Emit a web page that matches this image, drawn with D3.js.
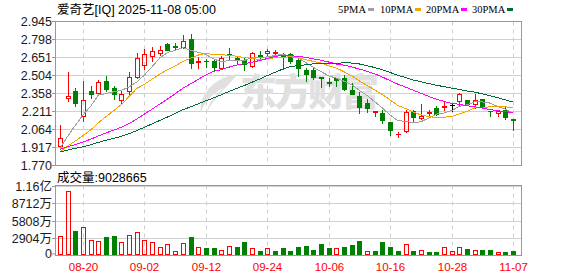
<!DOCTYPE html>
<html><head><meta charset="utf-8">
<script src="https://cdn.jsdelivr.net/npm/d3@7"></script>
<style>body{margin:0;background:#fff}svg{display:block}</style>
</head><body><svg id="c" width="578" height="276"></svg>
<script>
// ---------- data ----------
const dates = ["08-15","08-18","08-19","08-20","08-21","08-22","08-25","08-26","08-27","08-28","08-29",
"09-02","09-03","09-04","09-05","09-08","09-09","09-10","09-11","09-12","09-15","09-16","09-17","09-18","09-19","09-22","09-23","09-24","09-25","09-26","09-29","09-30",
"10-01","10-02","10-03","10-06","10-07","10-08","10-09","10-10","10-13","10-14","10-15","10-16","10-17","10-20","10-21","10-22","10-23","10-24","10-27","10-28","10-29","10-30","10-31",
"11-03","11-04","11-05","11-06","11-07"];
const open  = [1.925,2.320,2.376,2.172,2.376,2.363,2.455,2.401,2.306,2.376,2.494,2.586,2.659,2.686,2.763,2.743,2.735,2.804,2.615,2.622,
2.620,2.564,2.678,2.649,2.633,2.580,2.667,2.690,2.687,2.662,2.681,2.633,2.545,2.545,2.487,2.449,2.480,2.485,2.382,2.333,
2.278,2.207,2.197,2.118,2.020,2.050,2.213,2.151,2.198,2.240,2.248,2.260,2.295,2.300,2.268,2.314,2.215,2.195,2.224,2.145];
const high  = [2.096,2.531,2.401,2.455,2.415,2.470,2.500,2.415,2.376,2.530,2.686,2.722,2.735,2.741,2.766,2.768,2.831,2.845,2.654,2.640,
2.640,2.659,2.730,2.659,2.649,2.695,2.700,2.722,2.708,2.690,2.690,2.654,2.564,2.564,2.490,2.486,2.486,2.504,2.441,2.368,
2.308,2.213,2.219,2.123,2.042,2.219,2.224,2.268,2.224,2.251,2.286,2.268,2.360,2.300,2.350,2.314,2.215,2.224,2.251,2.145];
const low   = [1.909,2.295,2.254,2.131,2.322,2.355,2.380,2.308,2.280,2.350,2.485,2.559,2.620,2.673,2.708,2.714,2.730,2.564,2.564,2.572,
2.540,2.553,2.640,2.594,2.550,2.572,2.633,2.659,2.660,2.560,2.605,2.500,2.455,2.477,2.410,2.420,2.420,2.382,2.350,2.192,
2.205,2.170,2.115,2.015,1.996,2.042,2.129,2.145,2.164,2.178,2.224,2.213,2.260,2.260,2.240,2.240,2.170,2.170,2.145,2.060];
const close = [1.990,2.335,2.278,2.300,2.355,2.447,2.395,2.355,2.355,2.494,2.649,2.681,2.703,2.708,2.714,2.740,2.784,2.605,2.622,2.618,
2.572,2.649,2.674,2.633,2.600,2.686,2.654,2.700,2.692,2.655,2.620,2.564,2.518,2.490,2.483,2.445,2.470,2.390,2.350,2.246,
2.240,2.212,2.137,2.055,2.026,2.203,2.164,2.170,2.205,2.186,2.253,2.260,2.350,2.268,2.306,2.251,2.211,2.210,2.164,2.140];
// volume in 万 shares
const volume = [3378,10794,4202,4812,2719,2554,3214,3378,2390,3543,4038,2719,2390,1566,2011,857,2225,3214,1566,1401,
1401,1022,1681,1566,2390,1351,857,1351,857,1401,857,1566,1730,1022,2060,1401,1401,1566,1895,2554,
857,857,2390,1566,906,2011,906,1022,742,742,1566,906,1566,1236,1071,1071,1071,692,742,903];
// volume bar colour: 1 = up (red), 0 = down (green)
const volUp = [1,1,0,1,1,1,0,0,1,1,1,1,1,1,1,1,1,0,1,0,
0,1,1,0,0,1,0,1,0,0,0,0,0,0,0,0,1,0,0,0,
1,0,0,0,0,1,0,1,0,0,1,1,1,0,1,0,0,1,0,0];
const ma5  = [1.906,2.005,2.095,2.180,2.252,2.343,2.355,2.370,2.381,2.409,2.450,2.507,2.576,2.647,2.691,2.709,2.730,2.710,2.693,2.674,
2.640,2.613,2.627,2.629,2.626,2.648,2.649,2.655,2.666,2.677,2.664,2.646,2.610,2.569,2.535,2.500,2.481,2.456,2.428,2.380,
2.339,2.288,2.237,2.178,2.134,2.127,2.117,2.124,2.154,2.186,2.196,2.215,2.251,2.263,2.287,2.287,2.277,2.249,2.228,2.195];
const ma10 = [1.878,1.925,1.967,2.010,2.058,2.115,2.167,2.215,2.265,2.331,2.397,2.431,2.473,2.514,2.550,2.580,2.619,2.643,2.670,2.683,
2.675,2.672,2.669,2.661,2.650,2.644,2.631,2.641,2.648,2.652,2.656,2.648,2.633,2.618,2.606,2.582,2.564,2.533,2.499,2.458,
2.420,2.385,2.347,2.303,2.257,2.233,2.203,2.181,2.166,2.160,2.162,2.166,2.188,2.209,2.237,2.242,2.246,2.250,2.246,2.241];
const ma20 = [1.897,1.919,1.938,1.958,1.981,2.008,2.033,2.056,2.079,2.109,2.147,2.187,2.228,2.269,2.310,2.353,2.398,2.434,2.471,2.507,
2.536,2.551,2.571,2.588,2.600,2.612,2.625,2.642,2.659,2.667,2.665,2.660,2.651,2.639,2.628,2.613,2.597,2.587,2.573,2.555,
2.538,2.516,2.490,2.460,2.432,2.408,2.383,2.357,2.332,2.309,2.291,2.275,2.267,2.256,2.247,2.237,2.224,2.215,2.206,2.201];
const ma30 = [1.877,1.893,1.906,1.920,1.936,1.955,1.973,1.989,2.005,2.026,2.052,2.079,2.107,2.135,2.163,2.192,2.222,2.246,2.271,2.296,
2.319,2.345,2.372,2.397,2.421,2.448,2.474,2.502,2.529,2.555,2.576,2.583,2.591,2.598,2.602,2.602,2.604,2.606,2.605,2.597,
2.583,2.568,2.549,2.527,2.504,2.486,2.466,2.452,2.437,2.423,2.412,2.399,2.389,2.376,2.367,2.352,2.337,2.321,2.303,2.286];
const priceTicks = [2.945,2.798,2.651,2.504,2.358,2.211,2.064,1.917,1.770];
const volTicks = [0,2904,5808,8712,11616];
const volTickLabels = ["0","2904万","5808万","8712万","1.16亿"];
const dateTicks = ["08-20","09-02","09-12","09-24","10-06","10-16","10-28","11-07"];
const titleText = "爱奇艺[IQ] 2025-11-08 05:00";
const volTitleText = "成交量:9028665";
const maNames = ["5PMA","10PMA","20PMA","30PMA"];

// ---------- style / layout ----------
const RED="#ff0000", GREEN="#008000";
const maColors = ["#a0a0a0","#f5a300","#ff00ff","#006b35"];
const L=55.5, R=521.5, PT=21.5, PB=165.5, VT=185.5, VB=255.5;
const FONT = "'Liberation Sans','Noto Sans CJK SC',sans-serif";

const svg = d3.select("#c");
const x = d3.scalePoint().domain(dates).range([60,513]);
const y = d3.scaleLinear().domain([1.770,2.945]).range([165,21.5]);
const yv = d3.scaleLinear().domain([0,11616]).range([256.5,186]);
const cr = v => Math.floor(v)+0.5;

// grid
const grid = svg.append("g");
grid.selectAll(".hg").data(priceTicks).join("line")
  .attr("x1",L).attr("x2",R).attr("y1",d=>cr(y(d))).attr("y2",d=>cr(y(d)))
  .attr("stroke","#d0d0d0");
grid.selectAll(".vg").data(volTicks.filter(v=>v>0)).join("line")
  .attr("x1",L).attr("x2",R).attr("y1",d=>cr(yv(d))).attr("y2",d=>cr(yv(d)))
  .attr("stroke","#d0d0d0");
dateTicks.forEach(d=>{
  const xx = Math.round(x(d))+0.5;
  [[PT,PB],[VT,VB]].forEach(([a,b])=>{
    grid.append("line").attr("x1",xx).attr("x2",xx).attr("y1",a).attr("y2",b)
      .attr("stroke","#cfcfcf").attr("stroke-dasharray","4,4");
  });
});

// watermark
const wm = svg.append("g").attr("fill","#e0e0e0");
wm.append("path").attr("d","M238,74 C218,76 198,92 201,113 C205,100 214,92 224,88 C214,96 208,104 207,112 C214,98 226,88 238,74 Z");
wm.append("text").attr("x",240).attr("y",106).attr("font-size",37).attr("font-weight",900)
  .attr("letter-spacing",-3).attr("font-family","'Noto Sans CJK SC',sans-serif").text("东方财富");

// frames
svg.append("rect").attr("x",L).attr("y",PT).attr("width",R-L).attr("height",PB-PT)
  .attr("fill","none").attr("stroke","#999");
svg.append("rect").attr("x",L).attr("y",VT).attr("width",R-L).attr("height",VB-VT)
  .attr("fill","none").attr("stroke","#999");

// y axis labels + ticks
const ax = svg.append("g").attr("font-family",FONT).attr("font-size",12.5).attr("fill","#1a1a1a");
priceTicks.forEach(t=>{
  const yy = cr(y(t));
  ax.append("line").attr("x1",52).attr("x2",L).attr("y1",yy).attr("y2",yy).attr("stroke","#999");
  ax.append("text").attr("x",52).attr("y",yy).attr("text-anchor","end").attr("dominant-baseline","central").text(t.toFixed(3));
});
volTicks.forEach((t,i)=>{
  const yy = Math.min(cr(yv(t)),254);
  ax.append("line").attr("x1",52).attr("x2",L).attr("y1",yy).attr("y2",yy).attr("stroke","#999");
  ax.append("text").attr("x",52).attr("y",yy).attr("text-anchor","end").attr("dominant-baseline","central").text(volTickLabels[i]);
});

// x labels
svg.append("g").selectAll("text").data(dateTicks).join("text")
  .attr("x",d=>Math.round(x(d))+0.5).attr("y",271).attr("text-anchor","middle")
  .attr("font-family",FONT).attr("font-size",11.5).attr("fill",RED).text(d=>d);

// candles
const gc = svg.append("g");
dates.forEach((d,i)=>{
  const cx = Math.round(x(d));
  const o=open[i], c=close[i];
  const yT = Math.round(y(Math.max(o,c))), yB = Math.round(y(Math.min(o,c)));
  const yH = Math.round(y(high[i])), yL = Math.round(y(low[i]));
  const col = c>o?RED:(c<o?GREEN:"#000");
  if (c>o) {
    if (yH<yT) gc.append("line").attr("x1",cx+0.5).attr("x2",cx+0.5).attr("y1",yH).attr("y2",yT).attr("stroke",col);
    if (yL>yB) gc.append("line").attr("x1",cx+0.5).attr("x2",cx+0.5).attr("y1",yB+1).attr("y2",yL+1).attr("stroke",col);
    if (yB-yT>=1) gc.append("rect").attr("x",cx-1.5).attr("y",yT+0.5).attr("width",4).attr("height",yB-yT)
        .attr("fill","none").attr("stroke",col);
    else gc.append("line").attr("x1",cx-2).attr("x2",cx+3).attr("y1",yT+0.5).attr("y2",yT+0.5).attr("stroke",col);
  } else {
    gc.append("line").attr("x1",cx+0.5).attr("x2",cx+0.5).attr("y1",yH).attr("y2",yL+1).attr("stroke",col);
    gc.append("rect").attr("x",cx-2).attr("y",yT).attr("width",5).attr("height",Math.max(1,yB-yT+1)).attr("fill",col);
  }
});

// MA lines
const maSeries=[ma5,ma10,ma20,ma30];
const line = d3.line().x((v,i)=>x(dates[i])).y(v=>y(v));
maSeries.forEach((s,k)=>{
  svg.append("path").attr("d",line(s)).attr("fill","none").attr("stroke",maColors[k])
    .attr("stroke-width",1).attr("shape-rendering","crispEdges");
});

// volume bars
const gv = svg.append("g");
dates.forEach((d,i)=>{
  const cx = Math.round(x(d));
  const top = Math.round(yv(volume[i]));
  if (volUp[i]) gv.append("rect").attr("x",cx-1.5).attr("y",top+0.5).attr("width",4).attr("height",Math.max(0,254-top))
      .attr("fill","none").attr("stroke",RED);
  else gv.append("rect").attr("x",cx-2).attr("y",top).attr("width",5).attr("height",255-top).attr("fill",GREEN);
});

// titles
svg.append("text").attr("x",57).attr("y",14).attr("font-family",FONT).attr("font-size",12.5).attr("fill","#000").text(titleText);
svg.append("text").attr("x",57).attr("y",182).attr("font-family",FONT).attr("font-size",12.5).attr("fill","#000").text(volTitleText);

// legend
const lg = svg.append("g").attr("font-family","'Liberation Serif',serif").attr("font-size",10.5).attr("fill","#000");
const legendStart = [338,380,426,472];
maNames.forEach((n,k)=>{
  const t = lg.append("text").attr("x",legendStart[k]).attr("y",13).text(n);
  const w = t.node().getComputedTextLength();
  lg.append("rect").attr("x",Math.round(legendStart[k]+w+2)).attr("y",8).attr("width",6).attr("height",3).attr("fill",maColors[k]);
});
</script></body></html>
